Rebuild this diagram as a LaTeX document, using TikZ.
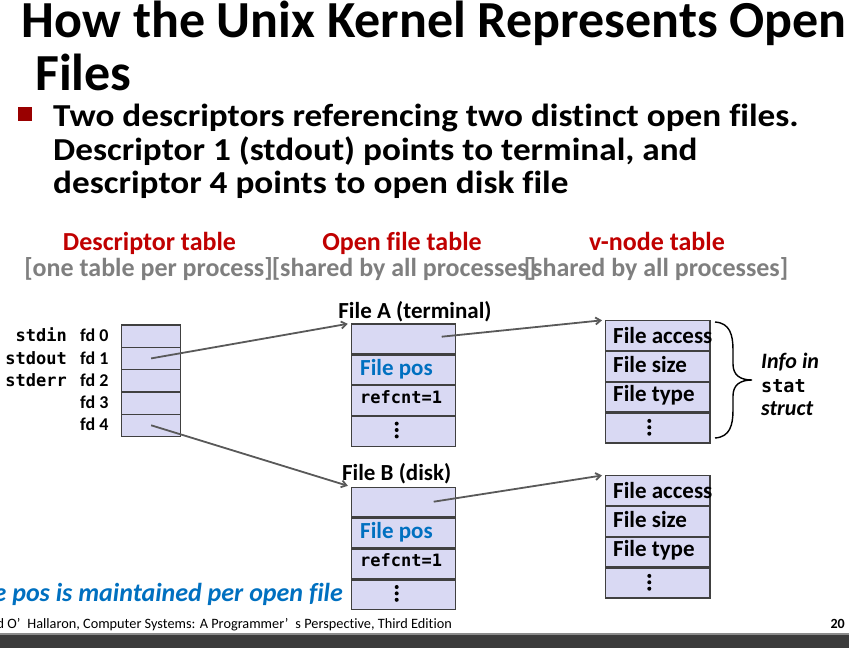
\documentclass[tikz,border=0pt]{standalone}
\usepackage{fontspec}
\setmainfont{Carlito}[Ligatures=NoCommon]
\setmonofont{DejaVu Sans Mono}
\newfontfamily\widefont{Carlito}[Ligatures=NoCommon, FakeStretch=1.1]
\usetikzlibrary{arrows.meta}

\definecolor{cellfill}{RGB}{217,217,243}
\definecolor{cellline}{RGB}{64,64,64}
\definecolor{headred}{RGB}{192,0,0}
\definecolor{headgray}{RGB}{127,127,127}
\definecolor{posblue}{RGB}{0,112,192}
\definecolor{bulletred}{RGB}{153,0,0}
\definecolor{ptrgray}{RGB}{89,89,89}
\definecolor{bardark}{RGB}{60,60,60}

\newcommand{\fs}[1]{\fontsize{#1}{#1}\selectfont}

\begin{document}
\begin{tikzpicture}[x=1pt, y=-1pt,
    dcell/.style={draw=cellline, fill=cellfill, line width=1.3pt, minimum width=59pt,
      minimum height=22.3pt, inner sep=0pt, anchor=north west},
    fcell/.style={dcell, minimum width=104.3pt, minimum height=29.6pt},
    fdtext/.style={anchor=base west, inner sep=0pt, font=\fs{18}\bfseries},
    stdtext/.style={anchor=base east, inner sep=0pt, font=\fs{17}\ttfamily\bfseries},
    celltext/.style={anchor=base west, inner sep=0pt, font=\fs{23}\bfseries},
    cnttext/.style={anchor=base west, inner sep=0pt, font=\fs{17}\ttfamily\bfseries},
    vdotsmark/.style={minimum width=6pt, minimum height=18pt, inner sep=0pt,
      path picture={\foreach \d in {-6.4,0,6.4}
        \fill ([yshift=\d pt]path picture bounding box.center) circle (2pt);}},
    headtext/.style={anchor=base, inner sep=0pt, font=\fs{26}\bfseries, text=headred},
    subtext/.style={anchor=base, inner sep=0pt, font=\fs{26}\bfseries, text=headgray},
    tabletitle/.style={anchor=base, inner sep=0pt, font=\fs{23}\bfseries},
    bullettext/.style={anchor=base west, inner sep=0pt, font=\fs{32}\widefont\bfseries},
    ptr/.style={draw=ptrgray, line width=1.8pt, -{Straight Barb[length=5pt, width=7pt]}, shorten >=3pt}
  ]

    \useasboundingbox (0,0) rectangle (849,648);

    % Title and bullet
    \node[anchor=base west, inner sep=0pt, font=\fs{52}\bfseries] (title1) at (21.7,37)
        {How the Unix Kernel Represents Open};
    \node[anchor=base west, inner sep=0pt, font=\fs{52}\bfseries] (title2) at (35,90) {Files};
    \node[fill=bulletred, minimum size=14pt, inner sep=0pt] (bullet) at (24.5,113.7) {};
    \node[bullettext] (line1) at (53,126.7) {Two descriptors referencing two distinct open files.};
    \node[bullettext] (line2) at (53,160) {Descriptor 1 (stdout) points to terminal, and};
    \node[bullettext] (line3) at (53,193.3) {descriptor 4 points to open disk file};

    % Column headers
    \node[headtext] (hdesc) at (149.5,250) {Descriptor table};
    \node[headtext] (hopen) at (402,250) {Open file table};
    \node[headtext] (hvnode) at (657,250) {v-node table};
    \node[subtext] (sdesc) at (148.5,276) {[one table per process]};
    \node[subtext] (sopen) at (404,276) {[shared by all processes]};
    \node[subtext] (svnode) at (656,276) {[shared by all processes]};

    % Descriptor table
    \foreach \i in {0,...,4} {
        \node[dcell] (fd\i) at (121,{324.3+22.3*\i}) {};
        \node[fdtext] (lfd\i) at (80,{341.7+22.3*\i}) {fd \i};
    }
    \foreach \i/\s in {0/stdin,1/stdout,2/stderr}
        \node[stdtext] (lstd\i) at (67,{341.7+22.3*\i}) {\s};

    % Open file table
    \foreach \t/\y in {a/323.3, b/486.7} {
        \node[fcell] (f\t1) at (350.7,\y) {};
        \node[fcell] (f\t2) at (f\t1.south west) {};
        \node[fcell] (f\t3) at (f\t2.south west) {};
        \node[fcell] (f\t4) at (f\t3.south west) {};
        \node[celltext, text=posblue] (tf\t2) at (360,\y+51.7) {File pos};
        \node[cnttext] (tf\t3) at (360,\y+80) {refcnt=1};
        \node[vdotsmark] (tf\t4) at (396.7,\y+106.7) {};
    }
    \node[tabletitle] (namea) at (415,318) {File A (terminal)};
    \node[tabletitle] (nameb) at (396.7,480.7) {File B (disk)};

    % v-node table
    \foreach \t/\y in {a/320, b/475} {
        \node[fcell] (v\t1) at (605,\y) {};
        \node[fcell] (v\t2) at (v\t1.south west) {};
        \node[fcell] (v\t3) at (v\t2.south west) {};
        \node[fcell] (v\t4) at (v\t3.south west) {};
        \node[celltext] (tv\t1) at (613,\y+23.3) {File access};
        \node[celltext] (tv\t2) at (613,\y+52.7) {File size};
        \node[celltext] (tv\t3) at (613,\y+81.7) {File type};
        \node[vdotsmark] (tv\t4) at (649.3,\y+107.3) {};
    }

    % Pointers
    \coordinate (pa) at (441.7,336.7);
    \coordinate (pb) at (433.7,501.7);
    \draw[ptr] (fd1.center) -- (fa1.north west);
    \draw[ptr] (fd4.center) -- (fb1.north west);
    \draw[ptr] (pa) -- (va1.north west);
    \draw[ptr] (pb) -- (vb1.north west);

    % Brace and stat note
    \draw[line width=1.4pt] (715,322) .. controls (730,323) and (733,335) .. (733,350)
        -- (733,364) .. controls (733,375) and (740,380) .. (752,380)
        .. controls (740,380) and (733,385) .. (733,396)
        -- (733,410) .. controls (733,425) and (730,437) .. (715,438);
    \node[anchor=base west, inner sep=0pt, font=\fs{22}\bfseries\itshape] (info1) at (761,368) {Info in};
    \node[anchor=base west, inner sep=0pt, font=\fs{18.5}\ttfamily\bfseries] (info2) at (761,392.7) {stat};
    \node[anchor=base west, inner sep=0pt, font=\fs{22}\bfseries\itshape] (info3) at (761,415) {struct};

    % Note and footer
    \node[anchor=base east, inner sep=0pt, font=\fs{26}\bfseries\itshape, text=posblue] (note) at (343,601)
        {File pos is maintained per open file};
    \node[anchor=base east, inner sep=0pt, font=\fs{14.3}] (footer) at (452,628)
        {Bryant and O’\hspace{7pt}Hallaron, Computer Systems: A Programmer’\hspace{7pt}s Perspective, Third Edition};
    \node[anchor=base east, inner sep=0pt, font=\fs{14}\bfseries] (page) at (845,628) {20};
    \fill[bardark] (0,633) rectangle (849,648);
    \fill[black!45] (0,633) rectangle (849,635);

\end{tikzpicture}
\end{document}
